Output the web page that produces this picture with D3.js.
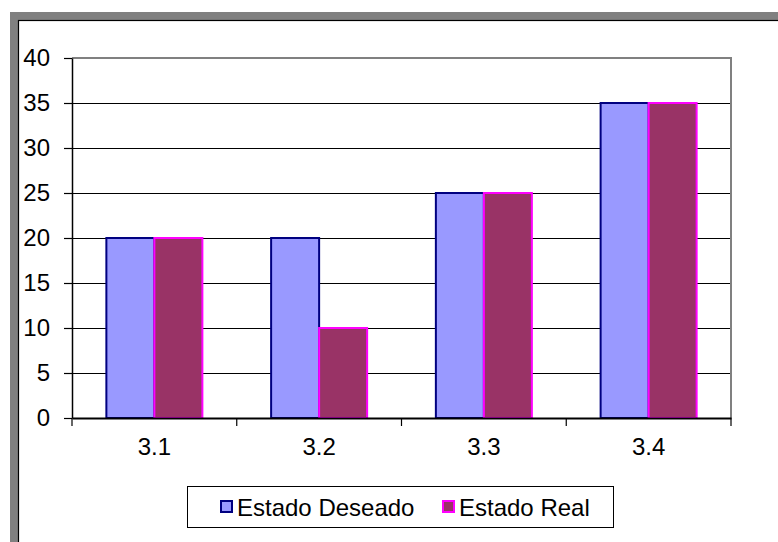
<!DOCTYPE html>
<html><head><meta charset="utf-8">
<script src="https://cdn.jsdelivr.net/npm/d3@7"></script>
<style>body{margin:0;background:#fff}svg{display:block}</style>
</head><body>
<svg id="c" width="778" height="542"></svg>
<script>
const categories = ["3.1", "3.2", "3.3", "3.4"];
const seriesNames = ["Estado Deseado", "Estado Real"];
const deseado = [20, 20, 25, 35];
const real = [20, 10, 25, 35];
const yTicks = [0, 5, 10, 15, 20, 25, 30, 35, 40];

const fills = ["#9999FF", "#993366"];
const strokes = ["#000080", "#FF00FF"];
const FONT = "'Liberation Sans', Arial, sans-serif";
const FS = 24;

const svg = d3.select("#c");
svg.append("rect").attr("width", 778).attr("height", 542).attr("fill", "#fff");
// outer gray frame
svg.append("rect").attr("x", 14).attr("y", 16).attr("width", 800).attr("height", 600)
  .attr("fill", "none").attr("stroke", "#808080").attr("stroke-width", 8);
svg.append("rect").attr("x", 18.5).attr("y", 20.5).attr("width", 800).attr("height", 600)
  .attr("fill", "none").attr("stroke", "#000").attr("stroke-width", 1.2);

const L = 72, R = 731, T = 58, B = 418;
const x0 = d3.scaleBand().domain(categories).range([L, R]).paddingInner(0).paddingOuter(0);
const x1 = d3.scaleBand().domain(seriesNames).range([0, x0.bandwidth()]).paddingInner(0).paddingOuter(0.716);
const y = d3.scaleLinear().domain([0, 40]).range([B, T]);

// gridlines
svg.append("g").selectAll("line").data(yTicks.filter(d => d > 0 && d < 40)).join("line")
  .attr("x1", L).attr("x2", R).attr("y1", d => y(d)).attr("y2", d => y(d))
  .attr("stroke", "#000").attr("stroke-width", 1).attr("shape-rendering", "crispEdges");

// plot border top/right gray
svg.append("path").attr("d", `M${L},${y(40)}H${R}V${B}`).attr("fill", "none")
  .attr("stroke", "#808080").attr("stroke-width", 2);

// bars
const data = categories.map((c, i) => ({c, vals: [deseado[i], real[i]]}));
const g = svg.append("g").selectAll("g").data(data).join("g")
  .attr("transform", d => `translate(${x0(d.c)},0)`);
g.selectAll("rect").data(d => d.vals.map((v, j) => ({s: seriesNames[j], v, j}))).join("rect")
  .attr("x", d => x1(d.s)).attr("width", x1.bandwidth())
  .attr("y", d => y(d.v)).attr("height", d => y(0) - y(d.v))
  .attr("fill", d => fills[d.j]).attr("stroke", d => strokes[d.j]).attr("stroke-width", 2);

// y axis
const yAxis = d3.axisLeft(y).tickValues(yTicks).tickSize(8).tickPadding(14).tickSizeOuter(0);
const ya = svg.append("g").attr("transform", `translate(${L},0)`).call(yAxis);
ya.select(".domain").attr("stroke", "#000").attr("stroke-width", 1.5);
ya.selectAll(".tick line").attr("stroke", "#000").attr("stroke-width", 1.2);
ya.selectAll("text").attr("font-family", FONT).attr("font-size", FS).attr("fill", "#000");

// x axis
const xAxis = d3.axisBottom(x0).tickSize(0).tickPadding(20);
const xa = svg.append("g").attr("transform", `translate(0,${B})`).call(xAxis);
xa.select(".domain").attr("stroke", "#000").attr("stroke-width", 2);
xa.selectAll("text").attr("font-family", FONT).attr("font-size", FS).attr("fill", "#000");
// category boundary tick marks
const bounds = categories.map(c => x0(c)).concat([R]);
svg.append("g").selectAll("line").data(bounds).join("line")
  .attr("x1", d => d).attr("x2", d => d).attr("y1", B).attr("y2", B + 8)
  .attr("stroke", "#000").attr("stroke-width", 1.2);

// legend
const lg = svg.append("g");
lg.append("rect").attr("x", 187.5).attr("y", 486.5).attr("width", 426).attr("height", 41)
  .attr("fill", "#fff").attr("stroke", "#000").attr("stroke-width", 1);
const legX = [221, 443];
seriesNames.forEach((s, i) => {
  lg.append("rect").attr("x", legX[i]).attr("y", 501).attr("width", 11).attr("height", 11)
    .attr("fill", fills[i]).attr("stroke", strokes[i]).attr("stroke-width", 2);
  lg.append("text").attr("x", legX[i] + 16).attr("y", 516).text(s)
    .attr("font-family", FONT).attr("font-size", FS).attr("fill", "#000");
});
</script>
</body></html>
